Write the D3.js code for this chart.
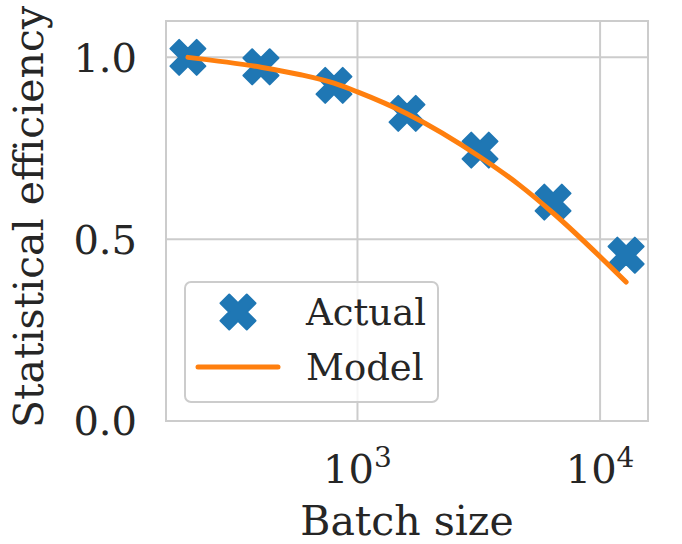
<!DOCTYPE html>
<html>
<head>
<meta charset="utf-8">
<script src="https://cdn.jsdelivr.net/npm/d3@7"></script>
<style>
  body { margin: 0; background: #fff; }
  text { font-family: "DejaVu Serif", serif; fill: #262626; }
</style>
</head>
<body>
<div id="chart"></div>
<script>
// data
const batchSizes = [200, 400, 800, 1600, 3200, 6400, 12800];
const actualEff = [1.0, 0.974, 0.923, 0.846, 0.745, 0.602, 0.456];
const modelBatch = [200, 400, 576, 800, 1000, 1600, 3200, 4670, 6400, 12800];
const modelEff = [1.0, 0.973, 0.953, 0.929, 0.905, 0.845, 0.726, 0.648, 0.572, 0.382];
const xTicks = [1000, 10000];
const yTicks = [0.0, 0.5, 1.0];
const legendLabels = ['Actual', 'Model'];

const blue = '#1f77b4', orange = '#ff7f0e', grid = '#cccccc';

const width = 682, height = 544;
const margin = { top: 21, right: 34, bottom: 123, left: 166 };

const svg = d3.select('#chart').append('svg')
  .attr('width', width)
  .attr('height', height);

// log x with 5% padding like matplotlib
let lx = d3.extent(batchSizes).map(Math.log10);
let pad = (lx[1] - lx[0]) * 0.05;
const x = d3.scaleLog()
  .domain([Math.pow(10, lx[0] - pad), Math.pow(10, lx[1] + pad)])
  .range([margin.left, width - margin.right]);

const y = d3.scaleLinear()
  .domain([0, 1.1])
  .range([height - margin.bottom, margin.top]);

// grid
svg.append('g').selectAll('line.gx')
  .data(xTicks).enter().append('line')
  .attr('x1', d => x(d)).attr('x2', d => x(d))
  .attr('y1', margin.top).attr('y2', height - margin.bottom)
  .attr('stroke', grid).attr('stroke-width', 2);

svg.append('g').selectAll('line.gy')
  .data(yTicks).enter().append('line')
  .attr('x1', margin.left).attr('x2', width - margin.right)
  .attr('y1', d => y(d)).attr('y2', d => y(d))
  .attr('stroke', grid).attr('stroke-width', 2);

// frame
svg.append('rect')
  .attr('x', margin.left).attr('y', margin.top)
  .attr('width', width - margin.left - margin.right)
  .attr('height', height - margin.bottom - margin.top)
  .attr('fill', 'none')
  .attr('stroke', grid).attr('stroke-width', 2);

// y tick labels
svg.append('g').selectAll('text')
  .data(yTicks).enter().append('text')
  .attr('x', margin.left - 29)
  .attr('y', d => y(d))
  .attr('dy', '0.36em')
  .attr('text-anchor', 'end')
  .attr('font-size', 40)
  .text(d => d.toFixed(1));

// x tick labels 10^n
let xt = svg.append('g').selectAll('text')
  .data(xTicks).enter().append('text')
  .attr('x', d => x(d))
  .attr('y', 483)
  .attr('text-anchor', 'middle')
  .attr('font-size', 40);
xt.append('tspan').text('10');
xt.append('tspan')
  .attr('font-size', 28)
  .attr('dy', -16)
  .text(d => Math.round(Math.log10(d)));

// axis labels
svg.append('text')
  .attr('x', (margin.left + width - margin.right) / 2)
  .attr('y', 535)
  .attr('text-anchor', 'middle')
  .attr('font-size', 41)
  .text('Batch size');

svg.append('text')
  .attr('transform', `translate(43, ${(margin.top + height - margin.bottom) / 2 - 4}) rotate(-90)`)
  .attr('text-anchor', 'middle')
  .attr('font-size', 41)
  .text('Statistical efficiency');

// X-shaped filled marker (like matplotlib 'X')
function xMarker(s) {
  let q = s / 4;
  let pts = [[-1, -2], [0, -1], [1, -2], [2, -1], [1, 0], [2, 1],
             [1, 2], [0, 1], [-1, 2], [-2, 1], [-1, 0], [-2, -1]];
  return 'M' + pts.map(p => (p[0] * q) + ',' + (p[1] * q)).join('L') + 'Z';
}

// actual points
svg.append('g').selectAll('path')
  .data(batchSizes).enter().append('path')
  .attr('d', xMarker(35))
  .attr('transform', (d, i) => `translate(${x(d)},${y(actualEff[i])})`)
  .attr('fill', blue)
  .attr('stroke', blue)
  .attr('stroke-width', 2)
  .attr('stroke-linejoin', 'round');

// model line
let line = d3.line()
  .x(d => x(d[0]))
  .y(d => y(d[1]))
  .curve(d3.curveMonotoneX);

svg.append('path')
  .datum(modelBatch.map((b, i) => [b, modelEff[i]]))
  .attr('d', line)
  .attr('fill', 'none')
  .attr('stroke', orange)
  .attr('stroke-width', 5)
  .attr('stroke-linecap', 'round');

// legend
let lg = svg.append('g').attr('transform', 'translate(185,282)');
lg.append('rect')
  .attr('width', 253).attr('height', 120)
  .attr('rx', 6)
  .attr('fill', 'white').attr('fill-opacity', 0.8)
  .attr('stroke', grid).attr('stroke-width', 2);

lg.append('path')
  .attr('d', xMarker(35))
  .attr('transform', 'translate(53,30)')
  .attr('fill', blue).attr('stroke', blue)
  .attr('stroke-width', 2).attr('stroke-linejoin', 'round');

lg.append('line')
  .attr('x1', 13).attr('x2', 93)
  .attr('y1', 85).attr('y2', 85)
  .attr('stroke', orange).attr('stroke-width', 5)
  .attr('stroke-linecap', 'round');

lg.selectAll('text.lab')
  .data(legendLabels).enter().append('text')
  .attr('x', 121)
  .attr('y', (d, i) => 43 + i * 55)
  .attr('font-size', 37)
  .text(d => d);
</script>
</body>
</html>
